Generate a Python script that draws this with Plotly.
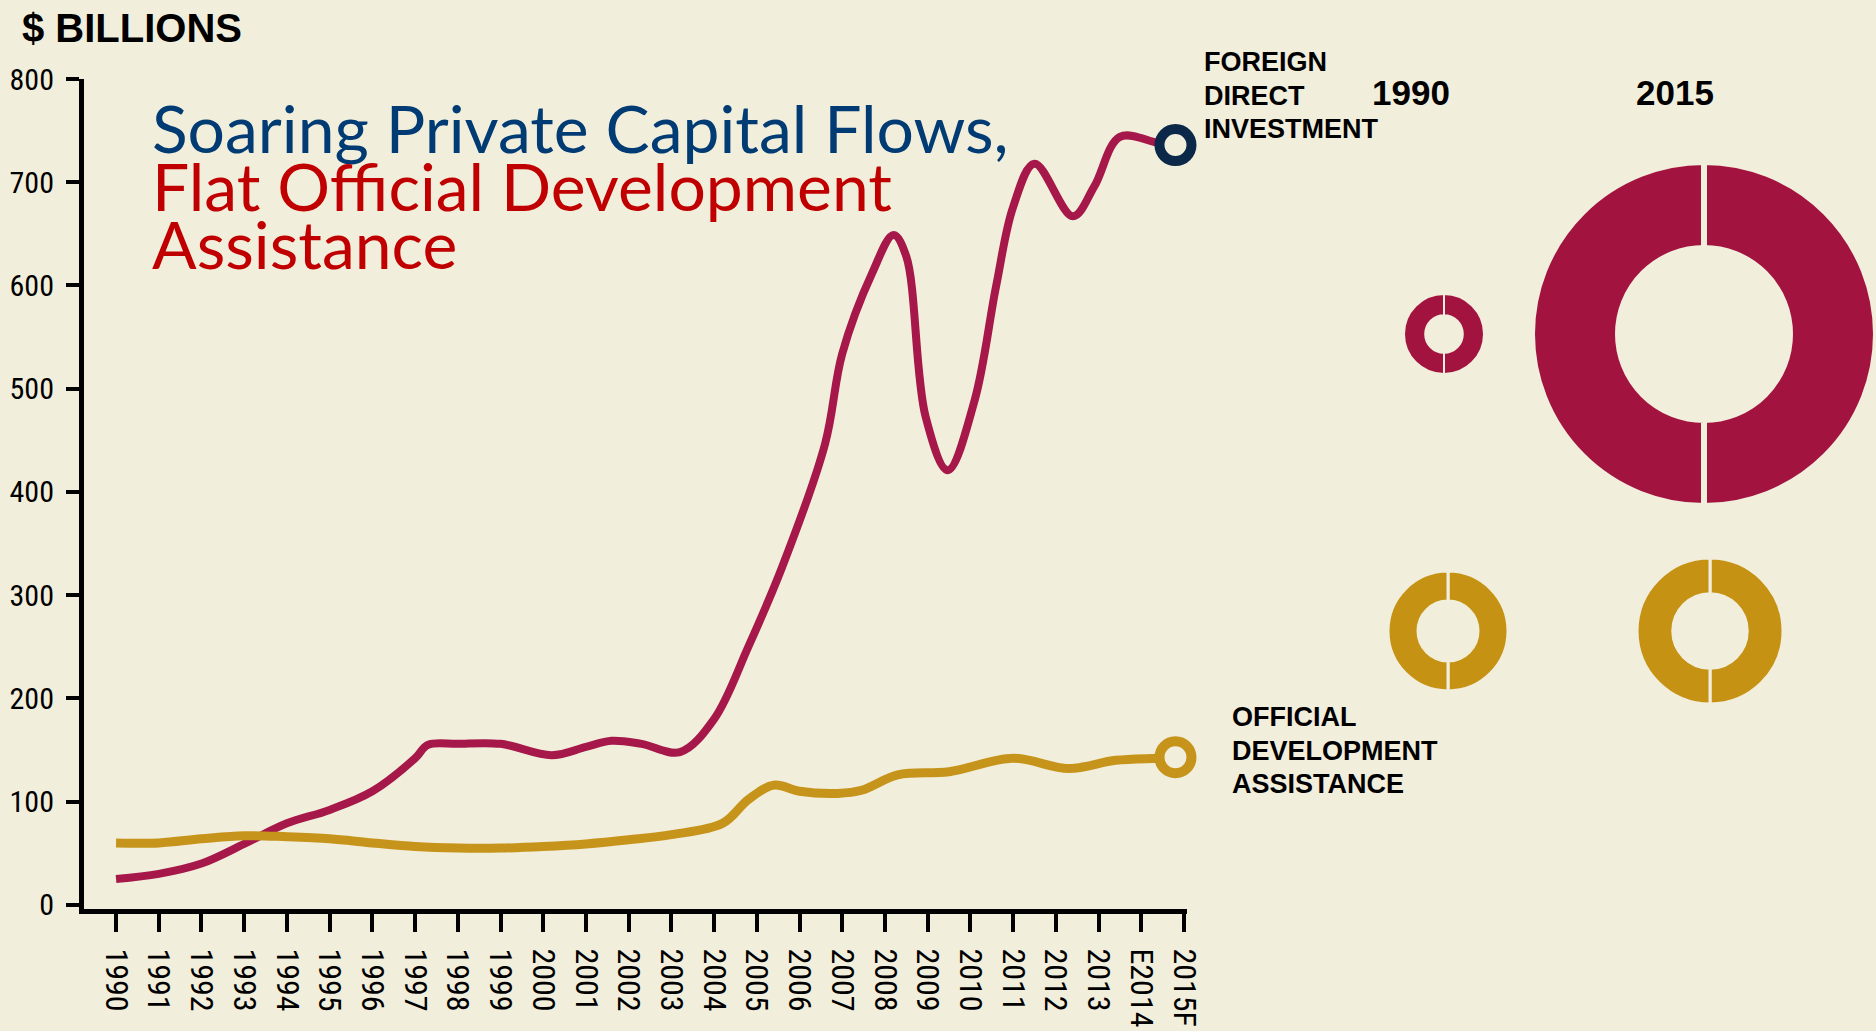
import plotly.graph_objects as go

W, H = 1876, 1031
BG = "#F2EEDC"
FDI_COLOR = "#A6174A"
ODA_COLOR = "#C6941A"
FDI_RING = "#0B2848"
DONUT_FDI = "#A31340"
DONUT_ODA = "#C69214"

# ---- data ($ billions) ----
tick_years = list(range(1990, 2016))
tick_labels = [str(y) for y in range(1990, 2014)] + ["E2014", "2015F"]
y_ticks = [0, 100, 200, 300, 400, 500, 600, 700, 800]

fdi_years = [1990, 1991, 1992, 1993, 1994, 1995, 1996, 1997, 1997.3, 1998, 1999,
             2000.2, 2001, 2001.6, 2002.3, 2003.2, 2004, 2004.8, 2005.6, 2006.6,
             2007, 2007.7, 2008.2, 2008.5, 2008.95, 2009.47, 2010.1, 2010.6, 2011,
             2011.5, 2012.4, 2012.9, 2013.5, 2014.4, 2014.8]
fdi_values = [25, 30, 40, 59, 79, 92, 110, 142, 155, 156, 156,
              145, 153, 159, 156, 148, 180, 250, 328, 447,
              534, 612, 649, 628, 473, 421, 489, 599, 676,
              718, 667, 696, 744, 738, 736]

oda_years = [1990, 1991, 1992, 1993, 1994, 1995, 1996, 1997, 1998, 1999, 2000,
             2001, 2002, 2003, 2004.2, 2004.8, 2005.4, 2006, 2006.9, 2007.45,
             2008.3, 2009.5, 2011, 2012.3, 2013.4, 2014.4, 2014.8]
oda_values = [60, 60, 64, 67, 66, 64, 60, 56.5, 55, 55, 56.5,
              59, 63, 68, 79, 102, 116, 110, 108, 111,
              126, 129, 142, 132, 140, 142, 143]

donut_halves = [1, 1]

fig = go.Figure()

fig.add_trace(go.Scatter(x=fdi_years, y=fdi_values, mode="lines",
                         line=dict(color=FDI_COLOR, width=8, shape="spline", smoothing=1.0),
                         hoverinfo="skip", showlegend=False))
fig.add_trace(go.Scatter(x=oda_years, y=oda_values, mode="lines",
                         line=dict(color=ODA_COLOR, width=9, shape="spline", smoothing=1.0),
                         hoverinfo="skip", showlegend=False))
# end rings
fig.add_trace(go.Scatter(x=[fdi_years[-1]], y=[fdi_values[-1]], mode="markers",
                         marker=dict(symbol="circle", size=32, color=BG,
                                     line=dict(color=FDI_RING, width=10)),
                         cliponaxis=False, hoverinfo="skip", showlegend=False))
fig.add_trace(go.Scatter(x=[oda_years[-1]], y=[oda_values[-1]], mode="markers",
                         marker=dict(symbol="circle", size=32, color=BG,
                                     line=dict(color=ODA_COLOR, width=10)),
                         cliponaxis=False, hoverinfo="skip", showlegend=False))


def px_dom(cx, cy, r):
    return dict(x=[(cx - r) / W, (cx + r) / W], y=[1 - (cy + r) / H, 1 - (cy - r) / H])


def donut(cx, cy, r, color, hole, gap):
    fig.add_trace(go.Pie(values=donut_halves, hole=hole, sort=False, direction="clockwise",
                         rotation=0, textinfo="none", hoverinfo="skip", showlegend=False,
                         marker=dict(colors=[color, color], line=dict(color=BG, width=gap)),
                         domain=px_dom(cx, cy, r)))


donut(1444, 334, 40, DONUT_FDI, 0.47, 2)
donut(1704, 334, 172, DONUT_FDI, 0.50, 6)
donut(1448, 631, 60, DONUT_ODA, 0.50, 3)
donut(1710, 631, 73, DONUT_ODA, 0.51, 3)

NARROW = "Liberation Sans Narrow, Arial Narrow, Roboto Condensed, Liberation Sans, Arial, sans-serif"
fig.update_layout(
    template="none",
    width=W, height=H, autosize=False,
    margin=dict(l=0, r=0, t=0, b=0, pad=0),
    paper_bgcolor=BG, plot_bgcolor=BG,
    xaxis=dict(domain=[84 / W, 1187 / W], range=[1989.25, 2015.07], automargin=False,
               tickmode="array", tickvals=tick_years, ticktext=tick_labels,
               tickangle=90, showgrid=False, zeroline=False,
               showline=True, linecolor="black", linewidth=5,
               ticks="outside", ticklen=18, tickwidth=4, tickcolor="black",
               ticklabelstandoff=10,
               tickfont=dict(family=NARROW, size=32, color="black")),
    yaxis=dict(domain=[1 - 909 / H, 1 - 79 / H], range=[-4, 800], automargin=False,
               tickmode="array", tickvals=y_ticks,
               showgrid=False, zeroline=False,
               showline=True, linecolor="black", linewidth=5,
               ticks="outside", ticklen=13, tickwidth=4, tickcolor="black",
               ticklabelstandoff=6,
               tickfont=dict(family=NARROW, size=30, color="black")),
)

BOLD = "Liberation Sans, Arial, sans-serif"


def text(t, x, y, size, color="black", family=BOLD, xanchor="left"):
    fig.add_annotation(text=t, x=x / W, y=1 - y / H, xref="paper", yref="paper",
                       xanchor=xanchor, yanchor="middle", showarrow=False,
                       font=dict(family=family, size=size, color=color))


text("<b>$ BILLIONS</b>", 20, 28, 40)

TITLE = "Lato, Noto Sans, sans-serif"
text("Soaring Private Capital Flows,", 150, 128, 66, "#003B73", TITLE)
text("Flat Official Development", 150, 186, 66, "#C00000", TITLE)
text("Assistance", 150, 243, 66, "#C00000", TITLE)

text("<b>FOREIGN</b>", 1202, 62, 27)
text("<b>DIRECT</b>", 1202, 96, 27)
text("<b>INVESTMENT</b>", 1202, 129, 27)

text("<b>OFFICIAL</b>", 1230, 717, 27)
text("<b>DEVELOPMENT</b>", 1230, 751, 27)
text("<b>ASSISTANCE</b>", 1230, 784, 27)

text("<b>1990</b>", 1411, 92, 35, xanchor="center")
text("<b>2015</b>", 1675, 92, 35, xanchor="center")

fig.write_html("out.html")
